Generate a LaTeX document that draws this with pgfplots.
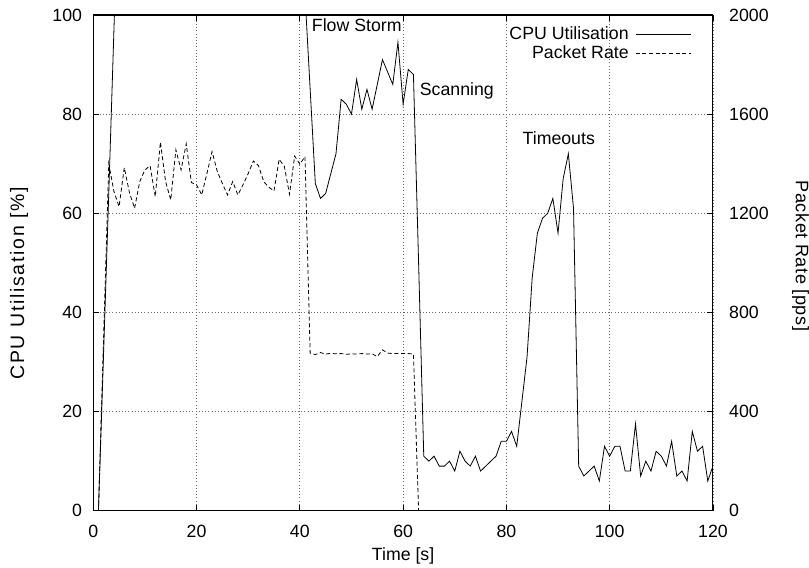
\documentclass[border=0pt]{standalone}
\usepackage{pgfplots}
\pgfplotsset{compat=1.18}
\usepackage{fontspec}
\setmainfont{Liberation Sans}
\newfontfamily\leftlab[LetterSpace=9]{Liberation Sans}
\newfontfamily\rightlab[LetterSpace=3]{Liberation Sans}

\pgfplotstableread{
t cpu
1 0
2 32
3 64
4 97
5 130
8 135
12 128
16 140
20 132
24 138
28 130
32 136
36 131
40 134
41 104
42 85
43 66
44 63
45 64
46 68
47 72
48 83
49 82
50 80
51 87
52 81
53 85
54 81
55 86
56 91
57 88.5
58 86
59 94.5
60 82
61 89
62 88
63 50
64 11
65 10
66 11
67 9
68 9
69 10
70 8
71 12
72 10
73 9
74 11
75 8
76 9
77 10
78 11
79 14
80 14
81 16
82 13
83 22
84 31
85 47
86 56
87 59
88 60
89 63
90 56
91 67
92 72
93 61
94 9
95 7
96 8
97 9
98 6
99 13
100 11
101 13
102 13
103 8
104 8
105 17.5
106 7
107 10
108 8
109 12
110 11
111 9
112 14
113 7
114 8
115 6
116 16
117 12
118 13
119 6
120 9
}\cputable

\pgfplotstableread{
t pps
1 0
2 700
3 1400
4 1288
5 1227
6 1384
7 1284
8 1220
9 1328
10 1375
11 1392
12 1267
13 1487
14 1328
15 1254
16 1456
17 1375
18 1480
19 1324
20 1315
21 1274
22 1360
23 1449
24 1370
25 1320
26 1274
27 1328
28 1274
29 1315
30 1360
31 1411
32 1392
33 1328
34 1305
35 1290
36 1418
37 1389
38 1277
39 1431
40 1398
41 1429
42 636
43 630
44 638
45 632
46 635
47 633
48 634
49 631
50 633
51 632
52 634
53 632
54 633
55 622
56 649
57 636
58 634
59 634
60 634
61 634
62 632
63 0
70 0
80 0
90 0
100 0
110 0
120 0
}\ppstable

\begin{document}
\begin{tikzpicture}[font=\fontsize{13.3}{16}\selectfont]
\pgfplotsset{
  base/.style={
    scale only axis, width=465pt, height=372pt,
    xmin=0, xmax=120,
    axis line style={line width=0.8pt},
    tick align=inside,
    major tick length=4.5pt,
    tick style={black, line width=0.6pt},
    /pgf/number format/assume math mode=true,
    /pgf/number format/1000 sep={},
  },
}
\begin{axis}[base,
  ymin=0, ymax=100,
  xtick={0,20,...,120}, ytick={0,20,...,100},
  xtick pos=both, ytick pos=left,
  grid=major,
  major grid style={dotted, gray!85!black, line width=0.6pt},
  yticklabel style={inner sep=0pt, anchor=east, xshift=-8.25pt},
  xticklabel style={inner sep=0pt, anchor=north, yshift=-10.5pt},
  xlabel={Time [s]},
  xlabel style={at={(axis description cs:0.5,-0.1008)}, anchor=base, inner sep=0pt},
  ylabel={\leftlab\fontsize{14.6}{17}\selectfont CPU Utilisation [\%]},
  ylabel style={at={(axis description cs:-0.1198,0.4587)}, anchor=center, rotate=0, inner sep=0pt},
]
\addplot[black, line width=0.6pt] table[x=t, y=cpu] {\cputable};
\node[anchor=base west, inner sep=0pt] at (axis cs:42.3,96.6) {Flow Storm};
\node[anchor=base west, inner sep=0pt] at (axis cs:63.2,83.7) {Scanning};
\node[anchor=base west, inner sep=0pt] at (axis cs:83.1,73.8) {Timeouts};
\end{axis}
\begin{axis}[base,
  ymin=0, ymax=2000,
  xtick=\empty, ytick={0,400,...,2000},
  ytick pos=right,
  yticklabel style={inner sep=0pt, anchor=west, xshift=12pt},
  ylabel={\rightlab\fontsize{13.6}{16}\selectfont Packet Rate [pps]},
  ylabel style={at={(axis description cs:1.1414,0.514)}, anchor=center, rotate=180, inner sep=0pt},
  legend plot pos=right,
  legend cell align=right,
  legend image code/.code={\draw[#1] (0pt,0pt) -- (41.25pt,0pt);},
  legend style={draw=none, fill=none, inner sep=0pt, at={(axis description cs:0.9652,0.9764)}, anchor=north east,
    nodes={inner sep=0pt}, column sep=5pt, row sep=3pt},
]
\addlegendimage{black, line width=0.6pt}
\addlegendentry{CPU Utilisation}
\addplot[black, line width=0.6pt, dash pattern=on 3pt off 2pt] table[x=t, y=pps] {\ppstable};
\addlegendentry{Packet Rate}
\end{axis}
\path (-70pt,-42.75pt) rectangle (536.75pt,383.25pt);
\end{tikzpicture}
\end{document}
